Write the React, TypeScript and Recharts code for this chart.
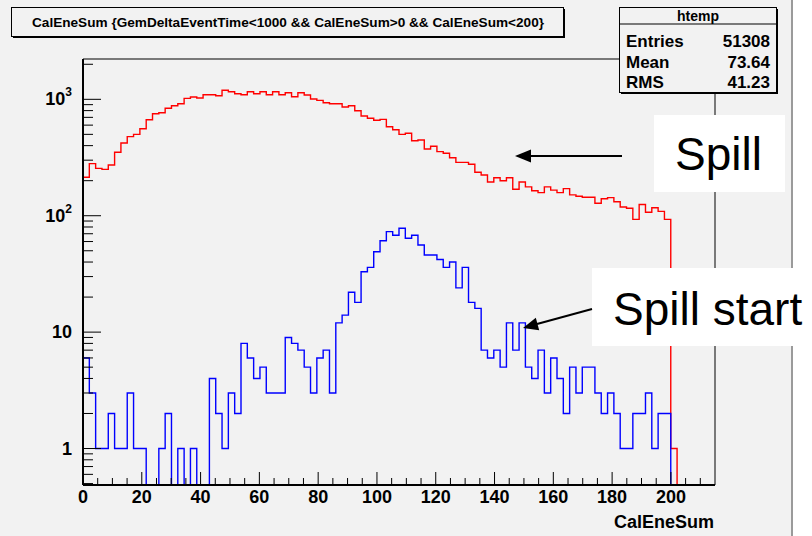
import React from "react";
import { ComposedChart, Line, XAxis, YAxis, ReferenceArea } from "recharts";

// histogram binning: 100 bins over 0..215
const BIN_WIDTH = 2.15;
const X_MAX = 215;
const Y_MIN = 0.486;
const Y_MAX = 2220;

// red: full spill, counts per bin
const SPILL_COUNTS = [
  214, 280, 255, 250, 273, 351, 422, 478, 500, 559,
  668, 752, 767, 837, 881, 917, 1019, 1047, 1026, 1095,
  1095, 1074, 1195, 1162, 1117, 1095, 1162, 1117, 1162, 1095,
  1162, 1095, 1140, 1052, 1140, 1089, 1006, 980, 935, 917,
  917, 859, 881, 798, 719, 687, 660, 673, 582, 548,
  500, 511, 441, 447, 374, 395, 355, 344, 315, 287,
  287, 277, 236, 224, 195, 212, 200, 212, 169, 195,
  177, 164, 158, 177, 166, 158, 171, 151, 147, 144,
  144, 128, 140, 143, 132, 119, 116, 93, 125, 107,
  117, 109, 93, 1, 0, 0, 0, 0, 0, 0,
];

// blue: spill start, counts per bin
const START_COUNTS = [
  6, 3, 1, 1, 2, 1, 1, 3, 1, 1,
  0, 0, 1, 2, 0, 1, 0, 1, 0, 0,
  4, 2, 1, 3, 2, 8, 6, 4, 5, 3,
  3, 3, 9, 8, 7, 5, 3, 6, 7, 3,
  12, 14, 22, 18, 33, 36, 49, 61, 73, 68,
  78, 64, 68, 56, 46, 46, 42, 36, 40, 24,
  36, 18, 16, 7, 6, 7, 5, 12, 7, 12,
  5, 4, 7, 3, 6, 4, 2, 5, 3, 5,
  5, 3, 2, 3, 2, 1, 1, 2, 2, 3,
  1, 2, 2, 0, 0, 0, 0, 0, 0, 0,
];

const X_TICKS = [
  0, 5, 10, 15, 20, 25, 30, 35, 40, 45, 50, 55, 60, 65, 70, 75, 80, 85, 90, 95,
  100, 105, 110, 115, 120, 125, 130, 135, 140, 145, 150, 155, 160, 165, 170, 175,
  180, 185, 190, 195, 200, 205, 210,
];
const X_LABELS = [0, 20, 40, 60, 80, 100, 120, 140, 160, 180, 200];

const Y_TICKS = [
  0.5, 0.6, 0.7, 0.8, 0.9, 1, 2, 3, 4, 5, 6, 7, 8, 9,
  10, 20, 30, 40, 50, 60, 70, 80, 90,
  100, 200, 300, 400, 500, 600, 700, 800, 900, 1000, 2000,
];
const Y_LABELS: Record<number, [string, string]> = {
  1: ["1", ""],
  10: ["10", ""],
  100: ["10", "2"],
  1000: ["10", "3"],
};

const STATS = [
  ["Entries", "51308"],
  ["Mean", "73.64"],
  ["RMS", "41.23"],
];

const TITLE = "CalEneSum {GemDeltaEventTime<1000 && CalEneSum>0 && CalEneSum<200}";

const BG = "#f2f2f2";
const FONT = "'Liberation Sans', Arial, sans-serif";

// one row per bin edge, last edge repeats the last bin so stepAfter closes it
const rows = Array.from({ length: SPILL_COUNTS.length + 1 }, (_, i) => {
  const k = Math.min(i, SPILL_COUNTS.length - 1);
  return {
    x: Number((i * BIN_WIDTH).toFixed(3)),
    spill: Math.max(SPILL_COUNTS[k], Y_MIN),
    start: Math.max(START_COUNTS[k], Y_MIN),
  };
});

function XTick(props: any) {
  const { x, y, payload } = props;
  const v = payload.value;
  const major = X_LABELS.includes(v);
  return (
    <g>
      <line x1={x} x2={x} y1={y} y2={y - (major ? 13 : 7)} stroke="#000" strokeWidth={1} />
      {major && (
        <text x={x} y={y + 18} textAnchor="middle" fontFamily={FONT} fontWeight="bold" fontSize={18} fill="#000">
          {v}
        </text>
      )}
    </g>
  );
}

function YTick(props: any) {
  const { x, y, payload } = props;
  const v = payload.value;
  const label = Y_LABELS[v];
  const major = Math.abs(Math.log10(v) - Math.round(Math.log10(v))) < 1e-9;
  return (
    <g>
      <line x1={x} x2={x + (major ? 18 : 10)} y1={y} y2={y} stroke="#000" strokeWidth={1} />
      {label && (
        <text x={x - 11} y={y + 6} textAnchor="end" fontFamily={FONT} fontWeight="bold" fontSize={18} fill="#000">
          {label[0]}
          {label[1] && (
            <tspan dy={-9} fontSize={12}>
              {label[1]}
            </tspan>
          )}
        </text>
      )}
    </g>
  );
}

export default function App() {
  return (
    <div style={{ position: "absolute", left: 0, top: 0, width: 812, height: 536, background: "#fff" }}>
      <div style={{ position: "absolute", left: 0, top: 0, width: 792, height: 536, background: BG }} />
      <div style={{ position: "absolute", left: 0, top: 0 }}>
        <ComposedChart width={812} height={536} data={rows} margin={{ top: 59, right: 97, bottom: 21, left: 0 }}>
          <XAxis
            type="number"
            dataKey="x"
            domain={[0, X_MAX]}
            ticks={X_TICKS}
            interval={0}
            height={30}
            tickSize={0}
            tickLine={false}
            tickMargin={0}
            allowDataOverflow
            axisLine={{ stroke: "#000", strokeWidth: 2 }}
            tick={XTick}
          />
          <YAxis
            type="number"
            scale="log"
            domain={[Y_MIN, Y_MAX]}
            ticks={Y_TICKS}
            interval={0}
            width={83}
            tickSize={0}
            tickLine={false}
            tickMargin={0}
            allowDataOverflow
            axisLine={{ stroke: "#000", strokeWidth: 2 }}
            tick={YTick}
          />
          <ReferenceArea
            x1={0}
            x2={X_MAX}
            y1={Y_MIN}
            y2={Y_MAX}
            fill="none"
            fillOpacity={0}
            stroke="#000"
            strokeWidth={1}
            ifOverflow="visible"
          />
          <Line type="stepAfter" dataKey="spill" stroke="#ff0000" strokeWidth={1.4} dot={false} isAnimationActive={false} />
          <Line type="stepAfter" dataKey="start" stroke="#0000ff" strokeWidth={1.4} dot={false} isAnimationActive={false} />
        </ComposedChart>
      </div>
      <svg width={812} height={536} style={{ position: "absolute", left: 0, top: 0, pointerEvents: "none" }}>
        <line x1={792} x2={792} y1={0} y2={536} stroke="#9a9a9a" strokeWidth={2} />

        {/* title pave */}
        <rect x={13} y={9} width={552} height={29} fill="#000" />
        <rect x={11.5} y={7.5} width={552} height={29} fill={BG} stroke="#000" strokeWidth={1} />
        <text x={32} y={27} fontFamily={FONT} fontWeight="bold" fontSize={13.5} textLength={512} lengthAdjust="spacingAndGlyphs" fill="#000">
          {TITLE}
        </text>

        {/* stats box */}
        <rect x={621} y={9} width={157} height={85} fill="#000" />
        <rect x={619.5} y={7.5} width={157} height={85} fill={BG} stroke="#000" strokeWidth={1} />
        <line x1={619.5} x2={776.5} y1={24} y2={24} stroke="#000" strokeWidth={1} />
        <text x={698} y={20.5} textAnchor="middle" fontFamily={FONT} fontWeight="bold" fontSize={14} fill="#000">
          htemp
        </text>
        {STATS.map(([k, v], i) => (
          <g key={k}>
            <text x={626} y={47 + i * 20.7} fontFamily={FONT} fontWeight="bold" fontSize={17} fill="#000">
              {k}
            </text>
            <text x={770} y={47 + i * 20.7} textAnchor="end" fontFamily={FONT} fontWeight="bold" fontSize={17} fill="#000">
              {v}
            </text>
          </g>
        ))}

        <text x={714} y={528} textAnchor="end" fontFamily={FONT} fontWeight="bold" fontSize={18} fill="#000">
          CalEneSum
        </text>

        {/* annotations */}
        <rect x={654} y={115} width={131} height={77} fill="#fff" />
        <text x={675} y={170} fontFamily={FONT} fontSize={46} fill="#000">
          Spill
        </text>
        <line x1={622} x2={528} y1={156} y2={156} stroke="#000" strokeWidth={2} />
        <polygon points="515,156 531,149.5 531,162.5" fill="#000" />

        <rect x={592} y={268} width={220} height={78} fill="#fff" />
        <text x={613} y={325} fontFamily={FONT} fontSize={46} fill="#000">
          Spill start
        </text>
        <line x1={592} x2={537} y1={309} y2={324} stroke="#000" strokeWidth={2} />
        <polygon points="523,328 539.2,330.3 535.8,317.8" fill="#000" />
      </svg>
    </div>
  );
}
